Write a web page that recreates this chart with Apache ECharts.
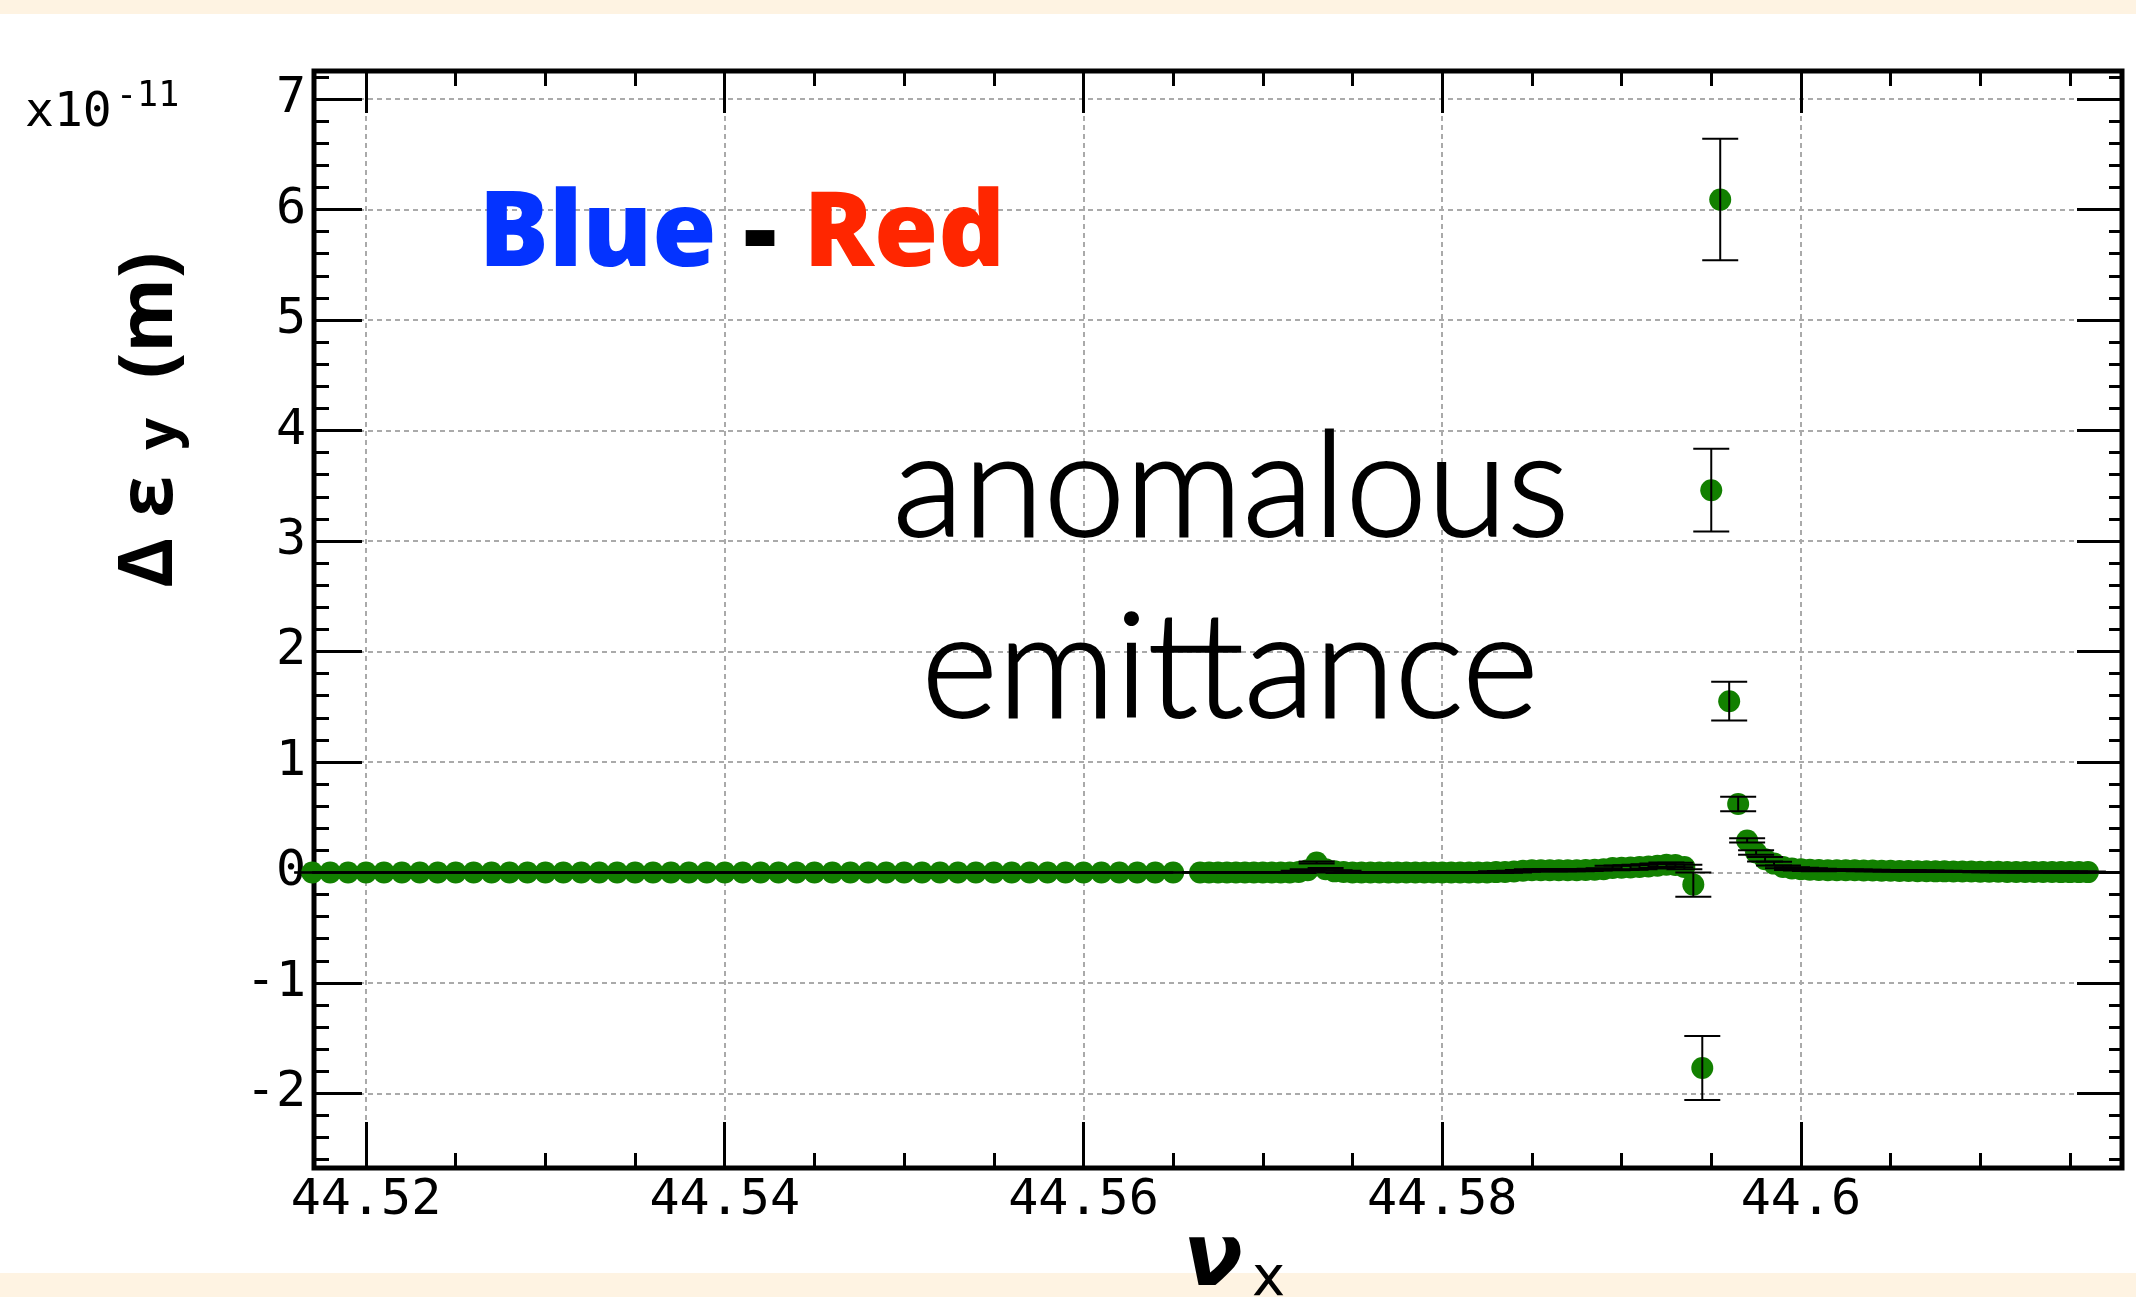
<!DOCTYPE html>
<html><head><meta charset="utf-8">
<script src="https://cdn.jsdelivr.net/npm/echarts@6/dist/echarts.min.js"></script>
<style>html,body{margin:0;padding:0;background:#fff}#c{width:2136px;height:1297px}</style>
</head><body><div id="c"></div>
<script>
// ---- data (x = nu_x, y = delta eps_y in units of 1e-11 m) ----
const nuX = [
44.517,44.518,44.519,44.52,44.521,44.522,44.523,44.524,44.525,44.526,44.527,44.528,44.529,44.53,44.531,44.532,44.533,44.534,44.535,44.536,44.537,44.538,44.539,44.54,44.541,44.542,44.543,44.544,44.545,44.546,44.547,44.548,44.549,44.55,44.551,44.552,44.553,44.554,44.555,44.556,44.557,44.558,44.559,44.56,44.561,44.562,44.563,44.564,44.565,
44.5665,44.567,44.5675,44.568,44.5685,44.569,44.5695,44.57,44.5705,44.571,44.5715,
44.572,44.5725,44.573,44.5735,44.574,44.5745,
44.575,44.5755,44.576,44.5765,44.577,44.5775,44.578,44.5785,44.579,44.5795,44.58,44.5805,44.581,44.5815,44.582,44.5825,
44.583,44.5835,44.584,44.5845,
44.585,44.5855,44.586,44.5865,44.587,44.5875,44.588,44.5885,44.589,
44.5895,44.59,44.5905,44.591,44.5915,44.592,44.5925,44.593,44.5935,
44.594,44.5945,44.595,44.5955,44.596,44.5965,
44.597,44.5975,44.598,44.5985,44.599,44.5995,44.6,44.6005,44.601,
44.6015,44.602,44.6025,44.603,44.6035,44.604,44.6045,44.605,44.6055,44.606,44.6065,44.607,
44.6075,44.608,44.6085,44.609,44.6095,44.61,44.6105,44.611,44.6115,44.612,44.6125,44.613,44.6135,44.614,44.6145,44.615,44.6155,44.616
];
const dEps = [
0,0,0,0,0,0,0,0,0,0,0,0,0,0,0,0,0,0,0,0,0,0,0,0,0,0,0,0,0,0,0,0,0,0,0,0,0,0,0,0,0,0,0,0,0,0,0,0,0,
0,0,0,0,0,0,0,0,0,0,0,
0.005,0.02,0.09,0.03,0.01,0.005,
0,0,0,0,0,0,0,0,0,0,0,0,0,0,0,0,
0.003,0.005,0.008,0.015,
0.02,0.02,0.02,0.02,0.02,0.02,0.022,0.025,0.03,
0.04,0.042,0.045,0.05,0.055,0.06,0.07,0.068,0.05,
-0.11,-1.77,3.46,6.09,1.55,0.62,
0.29,0.18,0.12,0.08,0.05,0.035,0.03,0.025,0.022,
0.02,0.02,0.02,0.02,0.018,0.018,0.016,0.015,0.014,0.013,0.012,0.011,
0.01,0.01,0.009,0.008,0.008,0.007,0.006,0.006,0.005,0.005,0.005,0.004,0.004,0.004,0.003,0.003,0.003,0.003
];
const dEpsErr = [
0.002,0.002,0.002,0.002,0.002,0.002,0.002,0.002,0.002,0.002,0.002,0.002,0.002,0.002,0.002,0.002,0.002,0.002,0.002,0.002,0.002,0.002,0.002,0.002,0.002,0.002,0.002,0.002,0.002,0.002,0.002,0.002,0.002,0.002,0.002,0.002,0.002,0.002,0.002,0.002,0.002,0.002,0.002,0.002,0.002,0.002,0.002,0.002,0.002,
0.003,0.003,0.003,0.003,0.003,0.003,0.003,0.003,0.003,0.003,0.003,
0.01,0.01,0.01,0.01,0.01,0.01,
0.003,0.003,0.003,0.003,0.003,0.003,0.003,0.003,0.003,0.003,0.003,0.003,0.003,0.003,0.003,0.003,
0.008,0.008,0.008,0.008,
0.008,0.008,0.008,0.008,0.008,0.008,0.008,0.008,0.008,
0.02,0.02,0.02,0.02,0.02,0.02,0.02,0.02,0.02,
0.11,0.29,0.375,0.55,0.175,0.066,
0.02,0.02,0.02,0.018,0.012,0.012,0.012,0.012,0.012,
0.006,0.006,0.006,0.006,0.006,0.006,0.006,0.006,0.006,0.006,0.006,0.006,
0.005,0.005,0.005,0.005,0.005,0.005,0.005,0.005,0.005,0.005,0.005,0.005,0.005,0.005,0.005,0.005,0.005,0.005
];
const xMajorTicks = [44.52, 44.54, 44.56, 44.58, 44.6];
const xTickLabels = ['44.52', '44.54', '44.56', '44.58', '44.6'];
const xMinorTicks = [44.525,44.53,44.535,44.545,44.55,44.555,44.565,44.57,44.575,44.585,44.59,44.595,44.605,44.61,44.615];
const yMajorTicks = [-2,-1,0,1,2,3,4,5,6,7];
const yTickLabels = ['-2','-1','0','1','2','3','4','5','6','7'];
const yMinorTicks = [-2.6,-2.4,-2.2,-1.8,-1.6,-1.4,-1.2,-0.8,-0.6,-0.4,-0.2,0.2,0.4,0.6,0.8,1.2,1.4,1.6,1.8,2.2,2.4,2.6,2.8,3.2,3.4,3.6,3.8,4.2,4.4,4.6,4.8,5.2,5.4,5.6,5.8,6.2,6.4,6.6,6.8,7.2];

const X_MIN = 44.5171, X_MAX = 44.6179, Y_MIN = -2.675, Y_MAX = 7.254;

function nearestLabel(v, ticks, labels) {
  let bi = 0, bd = Infinity;
  ticks.forEach((t, i) => { const d = Math.abs(t - v); if (d < bd) { bd = d; bi = i; } });
  return labels[bi];
}
const gridLine = { show: true, lineStyle: { color: '#aaaaaa', width: 2, type: [5, 4] } };
function xAxisDef(position, ticks, len, withLabels) {
  return {
    type: 'value', min: X_MIN, max: X_MAX, position: position,
    axisLine: { show: false, onZero: false },
    axisTick: { show: true, inside: true, length: len, customValues: ticks, lineStyle: { color: '#000', width: 3 } },
    axisLabel: withLabels ? {
      show: true, customValues: ticks, margin: 8, color: '#000',
      fontFamily: 'DejaVu Sans Mono', fontSize: 50,
      formatter: v => nearestLabel(v, xMajorTicks, xTickLabels)
    } : { show: false },
    splitLine: withLabels ? gridLine : { show: false },
    minorTick: { show: false }
  };
}
function yAxisDef(position, ticks, len, withLabels) {
  return {
    type: 'value', min: Y_MIN, max: Y_MAX, position: position,
    axisLine: { show: false, onZero: false },
    axisTick: { show: true, inside: true, length: len, customValues: ticks, lineStyle: { color: '#000', width: 3 } },
    axisLabel: withLabels ? {
      show: true, customValues: ticks, margin: 8, color: '#000',
      fontFamily: 'DejaVu Sans Mono', fontSize: 50,
      formatter: v => nearestLabel(v, yMajorTicks, yTickLabels)
    } : { show: false },
    splitLine: withLabels ? gridLine : { show: false },
    minorTick: { show: false }
  };
}

const pts = nuX.map((x, i) => [x, dEps[i]]);
const errPts = nuX.map((x, i) => [x, dEps[i], dEpsErr[i]]);

const chart = echarts.init(document.getElementById('c'), null, { renderer: 'canvas' });
chart.setOption({
  animation: false,
  backgroundColor: '#ffffff',
  grid: { left: 314, top: 71, width: 1808, height: 1097, show: true, borderColor: '#000', borderWidth: 5,
          backgroundColor: 'transparent', containLabel: false, outerBoundsMode: 'none' },
  xAxis: [
    xAxisDef('bottom', xMajorTicks, 46, true),
    xAxisDef('bottom', xMinorTicks, 15, false),
    xAxisDef('top', xMajorTicks, 42, false),
    xAxisDef('top', xMinorTicks, 15, false)
  ],
  yAxis: [
    yAxisDef('left', yMajorTicks, 48, true),
    yAxisDef('left', yMinorTicks, 15, false),
    yAxisDef('right', yMajorTicks, 45, false),
    yAxisDef('right', yMinorTicks, 13, false)
  ],
  series: [
    {
      type: 'scatter', xAxisIndex: 0, yAxisIndex: 0, data: pts, clip: false,
      symbol: 'circle', symbolSize: 22, itemStyle: { color: '#128000', opacity: 1 }, z: 3
    },
    {
      type: 'custom', xAxisIndex: 0, yAxisIndex: 0, data: errPts, clip: false, z: 4,
      renderItem: function (params, api) {
        const x = api.value(0), y = api.value(1), e = api.value(2);
        const t = api.coord([x, y + e]);
        const b = api.coord([x, y - e]);
        const hw = 18, st = { stroke: '#000', lineWidth: 2 };
        return {
          type: 'group', children: [
            { type: 'line', shape: { x1: t[0], y1: t[1], x2: b[0], y2: b[1] }, style: st },
            { type: 'line', shape: { x1: t[0] - hw, y1: t[1], x2: t[0] + hw, y2: t[1] }, style: st },
            { type: 'line', shape: { x1: b[0] - hw, y1: b[1], x2: b[0] + hw, y2: b[1] }, style: st }
          ]
        };
      }
    }
  ],
  graphic: [
    { type: 'rect', z: -10, shape: { x: 0, y: 0, width: 2136, height: 14 }, style: { fill: '#fef3e2' } },
    { type: 'rect', z: -10, shape: { x: 0, y: 1273, width: 2136, height: 24 }, style: { fill: '#fef3e2' } },
    { type: 'text', x: 25, y: 114, z: 10, style: { text: 'x10', x: 0, y: 0, align: 'left', verticalAlign: 'middle',
        fontFamily: 'DejaVu Sans Mono', fontSize: 48, fill: '#000' } },
    { type: 'text', x: 116, y: 97, z: 10, style: { text: '-11', x: 0, y: 0, align: 'left', verticalAlign: 'middle',
        fontFamily: 'DejaVu Sans Mono', fontSize: 35, fill: '#000' } },
    { type: 'text', x: 150, y: 420, rotation: Math.PI / 2, z: 10, style: {
        text: '{a|Δ} {a|ε}{h|  }{s|y}  {a|(m)}', x: 0, y: 0, align: 'center', verticalAlign: 'middle',
        fontFamily: 'Open Sans', fontSize: 76, fontWeight: 'bold', fill: '#000',
        rich: {
          a: { fontFamily: 'Open Sans', fontSize: 76, fontWeight: 'bold', fill: '#000', verticalAlign: 'bottom' },
          h: { fontFamily: 'Open Sans', fontSize: 50, fontWeight: 'bold', fill: '#000', verticalAlign: 'bottom' },
          s: { fontFamily: 'Open Sans', fontSize: 56, fontWeight: 'bold', fill: '#000', verticalAlign: 'bottom' }
        } } },
    { type: 'text', x: 742, y: 236, z: 10, style: {
        text: '{b|Blue} {k|-} {r|Red}', x: 0, y: 0, align: 'center', verticalAlign: 'middle',
        fontFamily: 'Noto Sans', fontSize: 104, fontWeight: 900, fill: '#000',
        rich: {
          b: { fontFamily: 'Noto Sans', fontSize: 104, fontWeight: 900, fill: '#0433ff' },
          k: { fontFamily: 'Noto Sans', fontSize: 104, fontWeight: 900, fill: '#000' },
          r: { fontFamily: 'Noto Sans', fontSize: 104, fontWeight: 900, fill: '#ff2600' }
        } } },
    { type: 'text', x: 1231, y: 489, z: 10, style: { text: 'anomalous', x: 0, y: 0, align: 'center', verticalAlign: 'middle',
        fontFamily: 'Lato', fontSize: 146, fontWeight: 300, fill: '#000', stroke: '#000', lineWidth: 2 } },
    { type: 'text', x: 1230, y: 670, z: 10, style: { text: 'emittance', x: 0, y: 0, align: 'center', verticalAlign: 'middle',
        fontFamily: 'Lato', fontSize: 146, fontWeight: 300, fill: '#000', stroke: '#000', lineWidth: 2 } },
    { type: 'text', x: 1183, y: 1262, z: 10, style: { text: 'ν', x: 0, y: 0, align: 'left', verticalAlign: 'middle',
        fontFamily: 'DejaVu Sans', fontSize: 88, fontWeight: 'bold', fontStyle: 'italic', fill: '#000' } },
    { type: 'text', x: 1252, y: 1280, z: 10, style: { text: 'x', x: 0, y: 0, align: 'left', verticalAlign: 'middle',
        fontFamily: 'DejaVu Sans', fontSize: 56, fill: '#000' } }
  ]
});
</script>
</body></html>
